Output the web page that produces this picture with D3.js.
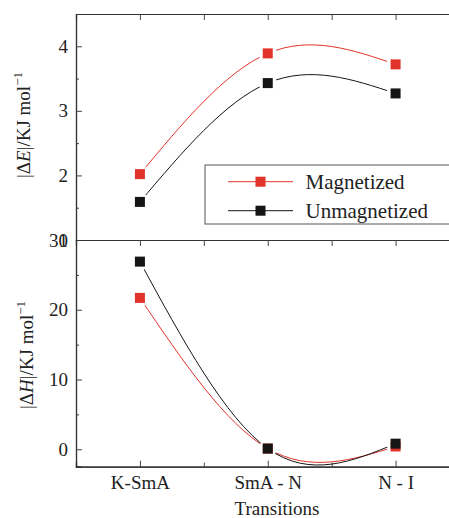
<!DOCTYPE html>
<html>
<head>
<meta charset="utf-8">
<script src="https://cdn.jsdelivr.net/npm/d3@7"></script>
</head>
<body style="margin:0">
<svg width="449" height="518" font-family="Liberation Serif" style="display:block"></svg>
<script>
// data
let transitions = ['K-SmA', 'SmA - N', 'N - I'];
let energyMagnetized = [2.02, 3.89, 3.72];
let energyUnmagnetized = [1.59, 3.43, 3.27];
let enthalpyMagnetized = [21.7, 0.1, 0.4];
let enthalpyUnmagnetized = [26.9, 0.1, 0.8];
let energyTicks = [2, 3, 4];
let enthalpyTicks = [0, 10, 20, 30];

let red = '#e2332a';
let black = '#151515';
let fontName = 'Liberation Serif';

let svg = d3.select('svg');

let x = d3.scaleLinear()
  .domain([0.5, 3.5])
  .range([76, 459.5]);

let yTop = d3.scaleLinear()
  .domain([1, 4.5])
  .range([240, 14]);

let yBot = d3.scaleLinear()
  .domain([-2.5, 30])
  .range([466.7, 240]);

let xVals = transitions.map((d, i) => i + 1);

function styleAxis(g) {
  g.attr('font-family', fontName).attr('font-size', 19);
  g.selectAll('path.domain').attr('stroke', '#333').attr('stroke-width', 1.2);
  g.selectAll('line').attr('stroke', '#444');
  g.selectAll('text')
    .attr('font-family', fontName)
    .style('font-family', fontName)
    .attr('font-size', 19)
    .attr('fill', '#222');
}

function drawPanel(y, majors, minors, series, labelsOn) {
  // y axis left
  svg.append('g')
    .attr('transform', `translate(${x.range()[0]},0)`)
    .call(d3.axisLeft(y).tickValues(minors).tickSize(-3).tickFormat(''))
    .call(styleAxis);
  svg.append('g')
    .attr('transform', `translate(${x.range()[0]},0)`)
    .call(d3.axisLeft(y).tickValues(majors).tickSize(-6).tickPadding(8).tickFormat(d3.format('d')))
    .call(styleAxis);

  // top frame, ticks pointing down
  svg.append('g')
    .attr('transform', `translate(0,${y.range()[1]})`)
    .call(d3.axisTop(x).tickValues([1, 1.5, 2, 2.5, 3]).tickSize(-6).tickFormat(''))
    .call(styleAxis);

  if (labelsOn) {
    svg.append('g')
      .attr('transform', `translate(0,${y.range()[0]})`)
      .call(d3.axisBottom(x).tickValues(xVals).tickSize(-6).tickPadding(9)
        .tickFormat((d, i) => transitions[i]))
      .call(styleAxis);
    svg.append('g')
      .attr('transform', `translate(0,${y.range()[0]})`)
      .call(d3.axisBottom(x).tickValues([1.5, 2.5]).tickSize(-4).tickFormat(''))
      .call(styleAxis);
  }

  let line = d3.line()
    .x((d, i) => x(xVals[i]))
    .y(d => y(d))
    .curve(d3.curveNatural);

  series.forEach((s, si) => {
    let id = 'gap' + Math.round(y.range()[0]) + si;
    let mask = svg.append('defs').append('mask').attr('id', id)
      .attr('maskUnits', 'userSpaceOnUse');
    mask.append('rect').attr('x', 0).attr('y', 0).attr('width', 449).attr('height', 518).attr('fill', '#fff');
    mask.selectAll('circle').data(s.values).join('circle')
      .attr('cx', (d, i) => x(xVals[i]))
      .attr('cy', d => y(d))
      .attr('r', 9)
      .attr('fill', '#000');

    svg.append('path')
      .datum(s.values)
      .attr('d', line)
      .attr('fill', 'none')
      .attr('stroke', s.color)
      .attr('stroke-width', 1)
      .attr('mask', `url(#${id})`);
  });

  series.forEach(s => {
    svg.append('g').selectAll('rect').data(s.values).join('rect')
      .attr('x', (d, i) => x(xVals[i]) - 5)
      .attr('y', d => y(d) - 5)
      .attr('width', 10)
      .attr('height', 10)
      .attr('fill', s.color);
  });
}

drawPanel(yTop, [1].concat(energyTicks), [1.5, 2.5, 3.5],
  [{ values: energyMagnetized, color: red }, { values: energyUnmagnetized, color: black }], false);

drawPanel(yBot, enthalpyTicks, [5, 15, 25],
  [{ values: enthalpyMagnetized, color: red }, { values: enthalpyUnmagnetized, color: black }], true);

// legend
let legend = svg.append('g');
legend.append('rect')
  .attr('x', 205).attr('y', 165)
  .attr('width', 260).attr('height', 59)
  .attr('fill', '#fff')
  .attr('stroke', '#555')
  .attr('stroke-width', 1);

[{ name: 'Magnetized', color: red, y: 181.7 }, { name: 'Unmagnetized', color: black, y: 210.7 }]
  .forEach(d => {
    legend.append('line')
      .attr('x1', 228).attr('x2', 293)
      .attr('y1', d.y).attr('y2', d.y)
      .attr('stroke', d.color).attr('stroke-width', 1);
    legend.append('rect')
      .attr('x', 255.5).attr('y', d.y - 5)
      .attr('width', 10).attr('height', 10)
      .attr('fill', d.color);
    legend.append('text')
      .attr('x', 305.5).attr('y', d.y + 7)
      .style('font-family', fontName)
      .attr('font-size', 21)
      .attr('fill', '#222')
      .text(d.name);
  });

// axis titles
function yTitle(label, cx, cy) {
  let t = svg.append('text')
    .attr('transform', `translate(${cx},${cy}) rotate(-90)`)
    .attr('text-anchor', 'middle')
    .style('font-family', fontName)
    .attr('font-size', 19)
    .attr('fill', '#222');
  t.append('tspan').text('|Δ');
  t.append('tspan').attr('font-style', 'italic').text(label);
  t.append('tspan').text('|/KJ mol');
  t.append('tspan').attr('font-size', 13).attr('dy', -8).text('−1');
}

yTitle('E', 30, 125);
yTitle('H', 33, 355);

svg.append('text')
  .attr('x', 277)
  .attr('y', 515)
  .attr('text-anchor', 'middle')
  .style('font-family', fontName)
  .attr('font-size', 19)
  .attr('fill', '#222')
  .text('Transitions');
</script>
</body>
</html>
